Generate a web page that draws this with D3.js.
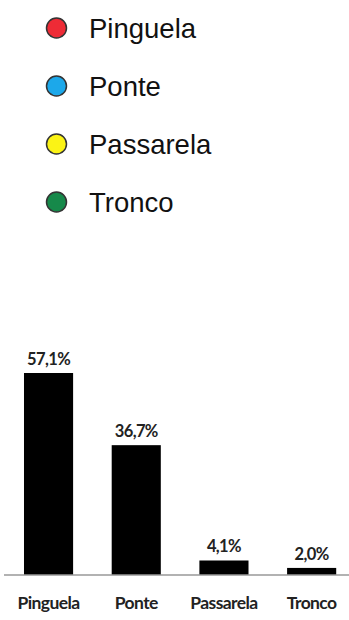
<!DOCTYPE html>
<html><head><meta charset="utf-8">
<script src="https://cdn.jsdelivr.net/npm/d3@7"></script>
<style>body{margin:0;background:#fff}svg{display:block}</style>
</head><body>
<script>
const categories = ["Pinguela", "Ponte", "Passarela", "Tronco"];
const values = [57.1, 36.7, 4.1, 2.0];
const valueLabels = ["57,1%", "36,7%", "4,1%", "2,0%"];
const legendLabels = ["Pinguela", "Ponte", "Passarela", "Tronco"];
const legendColors = ["#ee2b36", "#1ca8ea", "#fbf315", "#16894a"];

const W = 349, H = 620;
const svg = d3.select("body").append("svg").attr("width", W).attr("height", H);

// legend
const ly = d3.scalePoint().domain(legendLabels).range([28, 202]);
const lg = svg.append("g");
legendLabels.forEach((l, i) => {
  lg.append("circle").attr("cx", 56.5).attr("cy", ly(l)).attr("r", 10)
    .attr("fill", legendColors[i]).attr("stroke", "#333").attr("stroke-width", 1.5);
  lg.append("text").attr("x", 89).attr("y", ly(l) + 9.5)
    .attr("font-family", "Liberation Sans, Arial, sans-serif").attr("font-size", 27.5)
    .attr("fill", "#111").text(l);
});

// bars
const baseY = 575;
const x = d3.scaleBand().domain(categories).range([4.7, 355.5]).paddingInner(0.44).paddingOuter(0.22);
const y = d3.scaleLinear().domain([0, 57.1]).range([baseY, 373]);

svg.append("g").selectAll("rect").data(values).join("rect")
  .attr("x", (d, i) => x(categories[i])).attr("width", x.bandwidth())
  .attr("y", d => y(d)).attr("height", d => baseY - y(d)).attr("fill", "#000");

svg.append("line").attr("x1", 4).attr("x2", 349).attr("y1", baseY).attr("y2", baseY)
  .attr("stroke", "#999").attr("stroke-width", 1.5);

svg.append("g").selectAll("text").data(values).join("text")
  .attr("x", (d, i) => x(categories[i]) + x.bandwidth() / 2)
  .attr("y", d => y(d) - 8)
  .attr("text-anchor", "middle").attr("font-family", "Lato, sans-serif")
  .attr("font-weight", "bold").attr("font-size", 16.5).attr("fill", "#222")
  .attr("letter-spacing", -0.6)
  .text((d, i) => valueLabels[i]);

const xAxis = d3.axisBottom(x).tickSize(0).tickPadding(0);
const ax = svg.append("g").attr("transform", `translate(0,${baseY})`).call(xAxis);
ax.select(".domain").remove();
ax.selectAll("text").attr("dy", null).attr("y", 34)
  .attr("font-family", "Lato, sans-serif").attr("font-weight", "bold")
  .attr("font-size", 17.5).attr("fill", "#222").attr("letter-spacing", -0.6);
</script>
</body></html>
